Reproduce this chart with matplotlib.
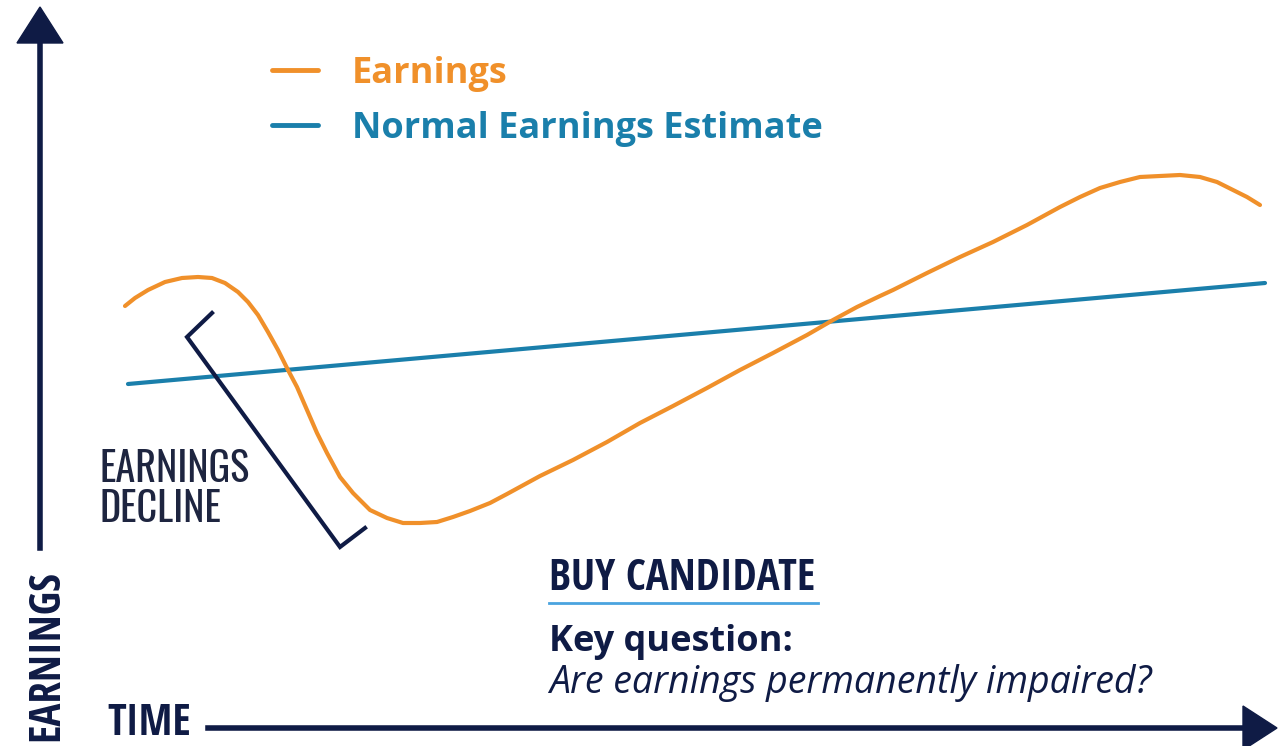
import matplotlib.pyplot as plt

# values, in pixel units of the 1286x746 canvas (y grows downward)
time_px = [125, 135, 148, 165, 182, 198, 212, 225, 238, 248, 258, 268, 278, 288,
           297, 307, 317, 327, 340, 353, 370, 387, 403, 420, 437, 453, 470, 490,
           507, 540, 573, 607, 640, 673, 707, 740, 773, 807, 833, 857, 880, 893,
           927, 960, 993, 1027, 1060, 1080, 1100, 1120, 1140, 1160, 1180, 1200,
           1217, 1233, 1247, 1260]
earnings_px = [306, 298, 290, 282, 278, 277, 278, 283, 292, 302, 315, 332, 350, 370,
               387, 410, 433, 453, 477, 493, 510, 518, 523, 523, 522, 517, 511, 503,
               494, 476, 460, 442, 423, 406, 388, 370, 353, 335, 320, 307, 296, 290,
               273, 257, 242, 225, 207, 197, 188, 182, 177, 176, 175, 177,
               182, 190, 197, 205]
estimate_time = [128, 1265]
estimate_px = [384, 283]

bracket_x = [212, 187, 340, 365]
bracket_y = [313, 337, 547, 528]

labels = ['Earnings', 'Normal Earnings Estimate']

orange = '#f0902a'
blue = '#1a7fab'
navy = '#0f1b45'

fig = plt.figure(figsize=(12.86, 7.46), dpi=100)
ax = fig.add_axes([0, 0, 1, 1])
ax.set_xlim(0, 1286)
ax.set_ylim(746, 0)
ax.axis('off')

# curves
ax.plot(estimate_time, estimate_px, color=blue, lw=3, solid_capstyle='round')
ax.plot(time_px, earnings_px, color=orange, lw=3, solid_capstyle='round', solid_joinstyle='round')

# bracket
ax.plot(bracket_x, bracket_y, color=navy, lw=3, solid_joinstyle='miter')

# axes arrows
ax.plot([40, 40], [548, 40], color=navy, lw=4)
ax.fill([17, 63, 40], [43, 43, 7], color=navy)
ax.plot([208, 1245], [728, 728], color=navy, lw=4)
ax.fill([1243, 1243, 1277], [706, 750, 728], color=navy, clip_on=False)

narrow_bold = ['Open Sans Condensed', 'DejaVu Sans']
narrow_light = ['Oswald', 'Open Sans Condensed', 'DejaVu Sans']
sans = ['Open Sans', 'DejaVu Sans']

ax.text(58, 741, 'EARNINGS', rotation=90, rotation_mode='anchor', ha='left', va='baseline',
        fontsize=31, fontweight='bold', family=narrow_bold, color=navy)
ax.text(107, 745, 'TIME', ha='left', va='bottom', fontsize=31, fontweight='bold',
        family=narrow_bold, color=navy)

# legend
ax.plot([272, 318], [70, 70], color=orange, lw=3.5, solid_capstyle='round')
ax.plot([272, 318], [125, 125], color=blue, lw=3.5, solid_capstyle='round')
ax.text(352, 83, labels[0], ha='left', va='baseline', fontsize=26, fontweight='bold',
        family=sans, color=orange)
ax.text(352, 138, labels[1], ha='left', va='baseline', fontsize=26, fontweight='bold',
        family=sans, color=blue)

# annotations
ax.text(100, 522, 'EARNINGS\nDECLINE', ha='left', va='baseline', fontsize=29,
        fontweight='light', family=narrow_light, color='#1e2540', linespacing=1.0)

ax.text(549, 590, 'BUY CANDIDATE', ha='left', va='baseline', fontsize=31, fontweight='bold',
        family=narrow_bold, color=navy)
ax.plot([549, 818], [603, 603], color='#4aa3df', lw=2)
ax.text(549, 651, 'Key question:', ha='left', va='baseline', fontsize=26, fontweight='bold',
        family=sans, color=navy)
ax.text(549, 693, 'Are earnings permanently impaired?', ha='left', va='baseline', fontsize=27,
        style='italic', family=sans, color=navy)

fig.savefig('out.png', dpi=100)
